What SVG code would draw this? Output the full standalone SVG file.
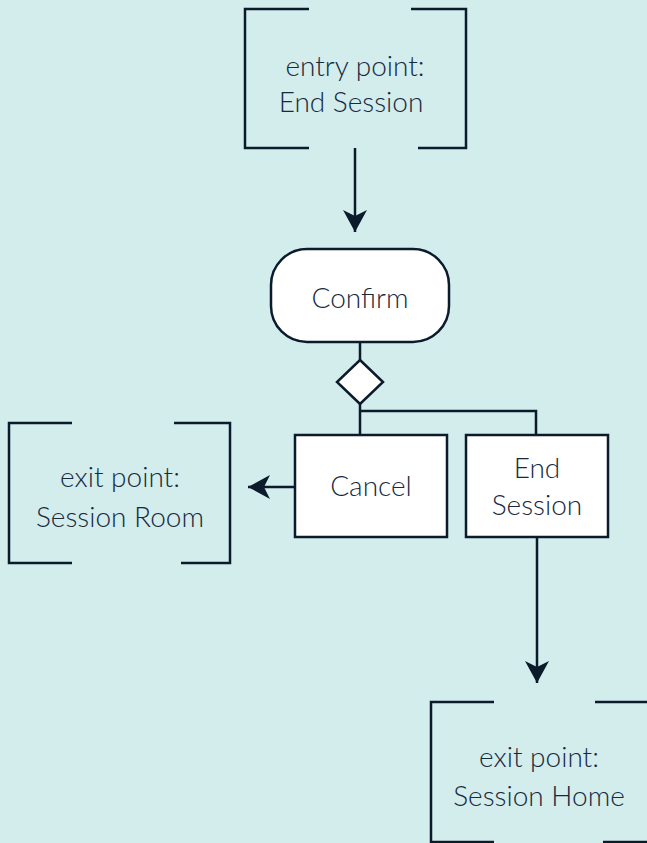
<svg xmlns="http://www.w3.org/2000/svg" width="647" height="843" viewBox="0 0 647 843">
  <defs>
    <style>
      .bg { fill: #d3ecec; }
      .line { fill: none; stroke: #0b1b2b; stroke-width: 2.5; }
      .box { fill: #ffffff; stroke: #0b1b2b; stroke-width: 2.5; }
      .label { font-family: Lato, "Open Sans", "Liberation Sans", sans-serif; font-weight: 300; font-size: 28px; fill: #162a3e; text-anchor: middle; }
    </style>
    <marker id="arrow" viewBox="0 0 24 24" markerWidth="24" markerHeight="24" refX="22" refY="12" orient="auto" markerUnits="userSpaceOnUse">
      <path d="M22,12 L0,0 L6,12 L0,24 Z" fill="#0b1b2b"/>
    </marker>
  </defs>

  <rect class="bg" x="0" y="0" width="647" height="843"/>

  <!-- connectors -->
  <g id="connectors">
    <path class="line" d="M355,148 V232" marker-end="url(#arrow)"/>
    <path class="line" d="M360,342 V360"/>
    <path class="line" d="M360,404 V435"/>
    <path class="line" d="M360,411 H536 V435"/>
    <path class="line" d="M295,487 H248" marker-end="url(#arrow)"/>
    <path class="line" d="M537,537 V683" marker-end="url(#arrow)"/>
  </g>

  <!-- entry point bracket -->
  <g id="entry-end-session">
    <path class="line" d="M309,9 H245 V148 H309"/>
    <path class="line" d="M411,9 H466 V148 H418"/>
    <text class="label" x="355" y="76">entry point:</text>
    <text class="label" x="351" y="112">End Session</text>
  </g>

  <!-- action: Confirm -->
  <g id="confirm">
    <rect class="box" x="271" y="249" width="178" height="93" rx="36" ry="36"/>
    <text class="label" x="360" y="308">Confirm</text>
  </g>

  <!-- decision -->
  <g id="decision">
    <path class="box" d="M360,360 L383,382 L360,404 L337,382 Z"/>
  </g>

  <!-- Cancel -->
  <g id="cancel">
    <rect class="box" x="295" y="435" width="152" height="102"/>
    <text class="label" x="371" y="496">Cancel</text>
  </g>

  <!-- End Session -->
  <g id="end-session">
    <rect class="box" x="466" y="435" width="142" height="102"/>
    <text class="label" x="537" y="478">End</text>
    <text class="label" x="537" y="515">Session</text>
  </g>

  <!-- exit point: Session Room -->
  <g id="exit-session-room">
    <path class="line" d="M72,423 H9 V563 H72"/>
    <path class="line" d="M174,423 H230 V563 H181"/>
    <text class="label" x="120" y="487">exit point:</text>
    <text class="label" x="120" y="527">Session Room</text>
  </g>

  <!-- exit point: Session Home -->
  <g id="exit-session-home">
    <path class="line" d="M494,702 H431 V842 H494"/>
    <path class="line" d="M595,702 H652 V842 H603"/>
    <text class="label" x="539" y="767">exit point:</text>
    <text class="label" x="539" y="806">Session Home</text>
  </g>
</svg>
